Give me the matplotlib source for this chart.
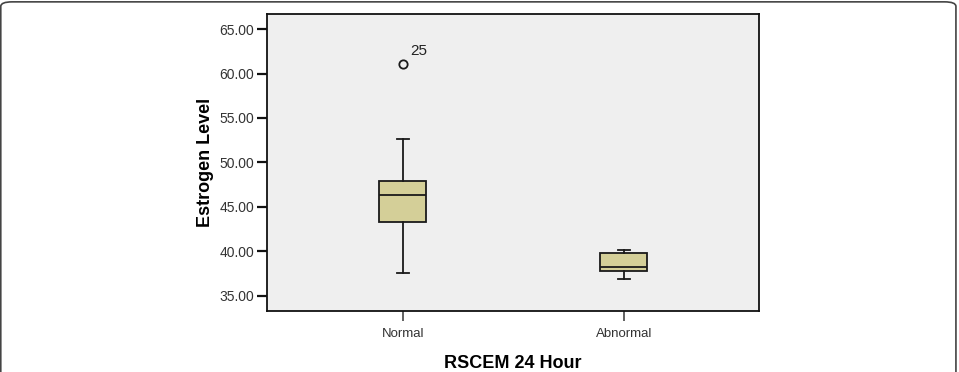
import matplotlib
matplotlib.use("Agg")
import matplotlib.pyplot as plt
from matplotlib.patches import FancyBboxPatch

plt.rcParams["font.family"] = ["Liberation Sans", "DejaVu Sans"]

# values
groups = ["Normal", "Abnormal"]
whisker_low = [37.56, 36.88]
q1 = [43.28, 37.78]
medians = [46.32, 38.2]
q3 = [47.86, 39.8]
whisker_high = [52.63, 40.15]
outliers = [[61.13], []]
outlier_ids = [["25"], []]

y_ticks = [35, 40, 45, 50, 55, 60, 65]

fig = plt.figure(figsize=(9.59, 3.72), dpi=100)
ax = fig.add_axes([267 / 959, 61 / 372, 492 / 959, 297 / 372])
ax.set_facecolor("#efefef")

stats = []
for i, g in enumerate(groups):
    stats.append({
        "label": g,
        "whislo": whisker_low[i],
        "q1": q1[i],
        "med": medians[i],
        "q3": q3[i],
        "whishi": whisker_high[i],
        "fliers": outliers[i],
    })

ax.bxp(stats, positions=[1, 2], widths=0.213, patch_artist=True,
       boxprops=dict(facecolor="#d4cf98", edgecolor="#1a1a1a", linewidth=1.3),
       medianprops=dict(color="#1a1a1a", linewidth=1.3),
       whiskerprops=dict(color="#1a1a1a", linewidth=1.3),
       capprops=dict(color="#1a1a1a", linewidth=1.3),
       capwidths=0.055,
       flierprops=dict(marker="o", markersize=6, markerfacecolor="none",
                       markeredgecolor="#1a1a1a", markeredgewidth=1.3))

# outlier case numbers
for i, ids in enumerate(outlier_ids):
    for v, lab in zip(outliers[i], ids):
        ax.annotate(lab, (i + 1, v), xytext=(5, 6), textcoords="offset points",
                    fontsize=11, color="#222222")

ax.set_xlim(0.385, 2.611)
ax.set_ylim(33.28, 66.7)
ax.set_yticks(y_ticks)
ax.set_yticklabels([f"{t:.2f}" for t in y_ticks])
ax.set_xticks([1, 2])
ax.set_xticklabels(groups)

for s in ax.spines.values():
    s.set_linewidth(1.3)
    s.set_color("#111111")
ax.tick_params(axis="y", length=7, width=1.6, labelsize=10, labelcolor="#333333",
               color="#111111", pad=2)
ax.tick_params(axis="x", length=7, width=1.3, labelsize=9.5, labelcolor="#333333",
               color="#555555", pad=5)

ax.set_ylabel("Estrogen Level", fontsize=13, fontweight="bold", labelpad=4)
ax.set_xlabel("RSCEM 24 Hour", fontsize=13, fontweight="bold", labelpad=11)

# rounded frame round the whole picture
frame = FancyBboxPatch((0.0008, -0.05), 0.996, 1.045, transform=fig.transFigure,
                       boxstyle="round,pad=0,rounding_size=0.012",
                       facecolor="none", edgecolor="#444444", linewidth=1.2,
                       clip_on=False)
fig.patches.append(frame)

fig.savefig("out.png", dpi=100)
